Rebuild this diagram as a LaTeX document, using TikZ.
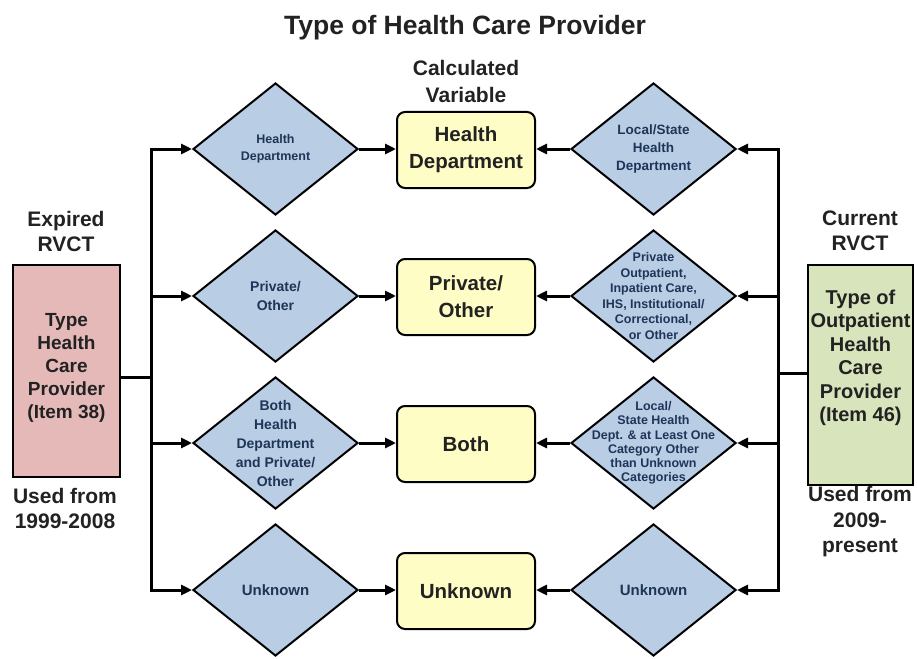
\documentclass[tikz,border=0pt]{standalone}
\usepackage{fontspec}
\setmainfont{Liberation Sans}
\usetikzlibrary{shapes.geometric,arrows.meta}

\definecolor{diafill}{HTML}{B9CDE5}
\definecolor{boxfill}{HTML}{FFFDC6}
\definecolor{oldfill}{HTML}{E5B9B8}
\definecolor{newfill}{HTML}{D8E4BC}
\definecolor{diatext}{HTML}{1E3557}
\definecolor{ink}{HTML}{222222}

% bold Liberation Sans at a given size and line spacing
\newcommand\fsz[2]{\fontsize{#1}{#2}\selectfont\bfseries}

\begin{document}
\begin{tikzpicture}[x=1pt,y=-1pt,
  conn/.style={line width=3pt},
  arr/.style={conn,-{Triangle[length=11pt,width=10pt]}},
  dia/.style={diamond,draw=black,line width=2pt,fill=diafill,inner sep=0pt,
    minimum width=165pt,minimum height=132pt},
  dtext/.style={text=diatext,align=center},
  calcbox/.style={rectangle,rounded corners=8pt,draw=black,line width=2pt,fill=boxfill,
    minimum width=138pt,minimum height=76pt,align=center,text=ink,font=\fsz{20.5}{27}},
  srcbox/.style={rectangle,draw=black,line width=2pt,inner sep=0pt},
  lbl/.style={align=center,text=ink,font=\fsz{21}{25}}
]
\useasboundingbox (0,0) rectangle (917,658);
\fill[white] (0,0) rectangle (917,658);

% headings
\node[text=ink,font=\fsz{26.5}{30}] (title) at (465,28) {Type of Health Care Provider};
\node[lbl,font=\fsz{21}{27}] (calc) at (466,81) {Calculated\\Variable};

% source variables
\node[srcbox,fill=oldfill,minimum width=107pt,minimum height=212pt,
  label={[align=center,text=ink,font=\fsz{19}{23},yshift=3pt]center:Type\\Health\\Care\\Provider\\(Item 38)}]
  (lbox) at (66.5,371) {};
\node[srcbox,fill=newfill,minimum width=105pt,minimum height=220pt,
  label={[align=center,text=ink,font=\fsz{20}{23.5},yshift=17pt]center:Type of\\Outpatient\\Health\\Care\\Provider\\(Item 46)}]
  (rbox) at (860.5,375) {};

\node[lbl] (expired) at (66,231) {Expired\\RVCT};
\node[lbl] (oldused) at (65,508) {Used from\\1999-2008};
\node[lbl] (current) at (860,231) {Current\\RVCT};
\node[lbl,font=\fsz{21}{25.5}] (newused) at (860,522) {Used from\\2009-\\present};

% left-hand category diamonds
\node[dia,label={[dtext,font=\fsz{12.5}{17}]center:Health\\Department}] (l1) at (275.5,149) {};
\node[dia,label={[dtext,font=\fsz{14}{19}]center:Private/\\Other}] (l2) at (275.5,296) {};
\node[dia,label={[dtext,font=\fsz{14}{19}]center:Both\\Health\\Department\\and Private/\\Other}] (l3) at (275.5,443) {};
\node[dia,label={[dtext,font=\fsz{15}{18}]center:Unknown}] (l4) at (275.5,590) {};

% calculated variable boxes
\node[calcbox] (b1) at (466,150) {Health\\Department};
\node[calcbox] (b2) at (466,297) {Private/\\Other};
\node[calcbox] (b3) at (466,444) {Both};
\node[calcbox] (b4) at (466,591) {Unknown};

% right-hand category diamonds
\node[dia,label={[dtext,font=\fsz{13.5}{18}]center:Local/State\\Health\\Department}] (r1) at (653.5,149) {};
\node[dia,label={[dtext,font=\fsz{12.5}{15.5}]center:Private\\Outpatient,\\Inpatient Care,\\IHS, Institutional/\\Correctional,\\or Other}] (r2) at (653.5,296) {};
\node[dia,label={[dtext,font=\fsz{12.5}{14.3}]center:Local/\\State Health\\Dept. \& at Least One\\Category Other\\than Unknown\\Categories}] (r3) at (653.5,443) {};
\node[dia,label={[dtext,font=\fsz{15}{18}]center:Unknown}] (r4) at (653.5,590) {};

% trunk lines
\coordinate (lm) at (151,377);
\coordinate (rm) at (778,373);

\draw[conn] (lbox.east |- lm) -- (lm);
\draw[arr] (lm) |- (l1.west);
\draw[arr] (lm) |- (l4.west);
\draw[arr] (l2.west -| lm) -- (l2.west);
\draw[arr] (l3.west -| lm) -- (l3.west);

\draw[conn] (rbox.west |- rm) -- (rm);
\draw[arr] (rm) |- (r1.east);
\draw[arr] (rm) |- (r4.east);
\draw[arr] (r2.east -| rm) -- (r2.east);
\draw[arr] (r3.east -| rm) -- (r3.east);

% diamonds into calculated variables
\foreach \i in {1,2,3,4}{
  \draw[arr] (l\i.east) -- (b\i.west |- l\i.east);
  \draw[arr] (r\i.west) -- (b\i.east |- r\i.west);
}
\end{tikzpicture}
\end{document}
